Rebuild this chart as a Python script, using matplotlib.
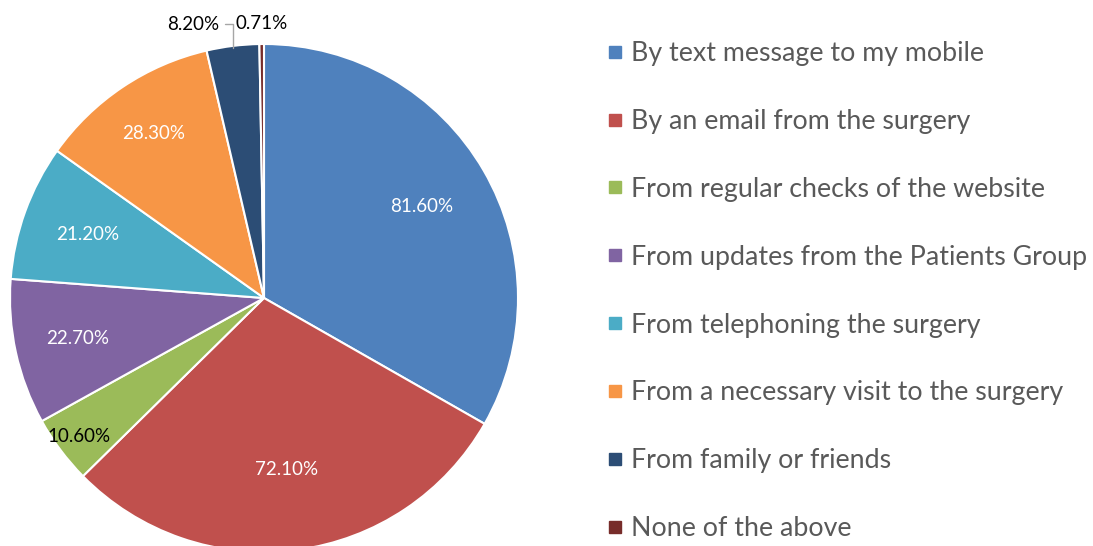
import numpy as np
import matplotlib
matplotlib.use('Agg')
import matplotlib.pyplot as plt
from matplotlib.lines import Line2D

plt.rcParams['font.family'] = ['Lato', 'DejaVu Sans']

# survey answers (percent of respondents, multiple choice so they sum > 100)
categories = ['By text message to my mobile', 'By an email from the surgery',
              'From regular checks of the website', 'From updates from the Patients Group',
              'From telephoning the surgery', 'From a necessary visit to the surgery',
              'From family or friends', 'None of the above']
values = [81.60, 72.10, 10.60, 22.70, 21.20, 28.30, 8.20, 0.71]
pct_labels = ['81.60%', '72.10%', '10.60%', '22.70%', '21.20%', '28.30%', '8.20%', '0.71%']

colors = ['#4F81BD', '#C0504D', '#9BBB59', '#8064A2', '#4BACC6', '#F79646', '#2C4D75', '#772C2A']
label_colors = ['white', 'white', 'black', 'white', 'white', 'white', 'black', 'black']
label_r = [0.72, 0.68, 0.91, 0.75, 0.74, 0.78, None, None]

W, H = 1093, 546
fig = plt.figure(figsize=(W / 100, H / 100), dpi=100)
cx, cy, r = 264, 298, 254
ax = fig.add_axes([(cx - r) / W, (H - cy - r) / H, 2 * r / W, 2 * r / H])
wedges, _ = ax.pie(values, colors=colors, startangle=90, counterclock=False, radius=1,
                   wedgeprops=dict(edgecolor='white', linewidth=1.5))
ax.set_xlim(-1, 1)
ax.set_ylim(-1, 1)
ax.axis('off')

for i, w in enumerate(wedges):
    mid = np.deg2rad((w.theta1 + w.theta2) / 2)
    if label_r[i] is not None:
        ax.text(label_r[i] * np.cos(mid), label_r[i] * np.sin(mid), pct_labels[i],
                ha='center', va='center', fontsize=13.5, color=label_colors[i])

# small slices at the top get labels outside
mid7 = np.deg2rad((wedges[6].theta1 + wedges[6].theta2) / 2)
ax.annotate(pct_labels[6], xy=(np.cos(mid7) * 0.99, np.sin(mid7) * 0.99),
            xytext=(-0.175, 1.078), ha='right', va='center', fontsize=13.5, color='black',
            arrowprops=dict(arrowstyle='-', color='#A6A6A6', lw=1, shrinkA=2, shrinkB=0,
                            connectionstyle='angle,angleA=0,angleB=90,rad=0'),
            annotation_clip=False)
mid8 = np.deg2rad((wedges[7].theta1 + wedges[7].theta2) / 2)
ax.text(np.cos(mid8), 1.082, pct_labels[7], ha='center', va='center',
        fontsize=13.5, color='black', clip_on=False)

handles = [Line2D([], [], marker='s', linestyle='none', markersize=8.6,
                  markerfacecolor=c, markeredgecolor=c) for c in colors]
fig.legend(handles, categories, loc='upper left', bbox_to_anchor=(608 / W, 1 - 41 / H),
           frameon=False, fontsize=19.3, labelcolor='#595959', handlelength=0.51,
           handletextpad=0.335, labelspacing=1.6, borderpad=0, borderaxespad=0)

fig.savefig('out.png', dpi=100)
